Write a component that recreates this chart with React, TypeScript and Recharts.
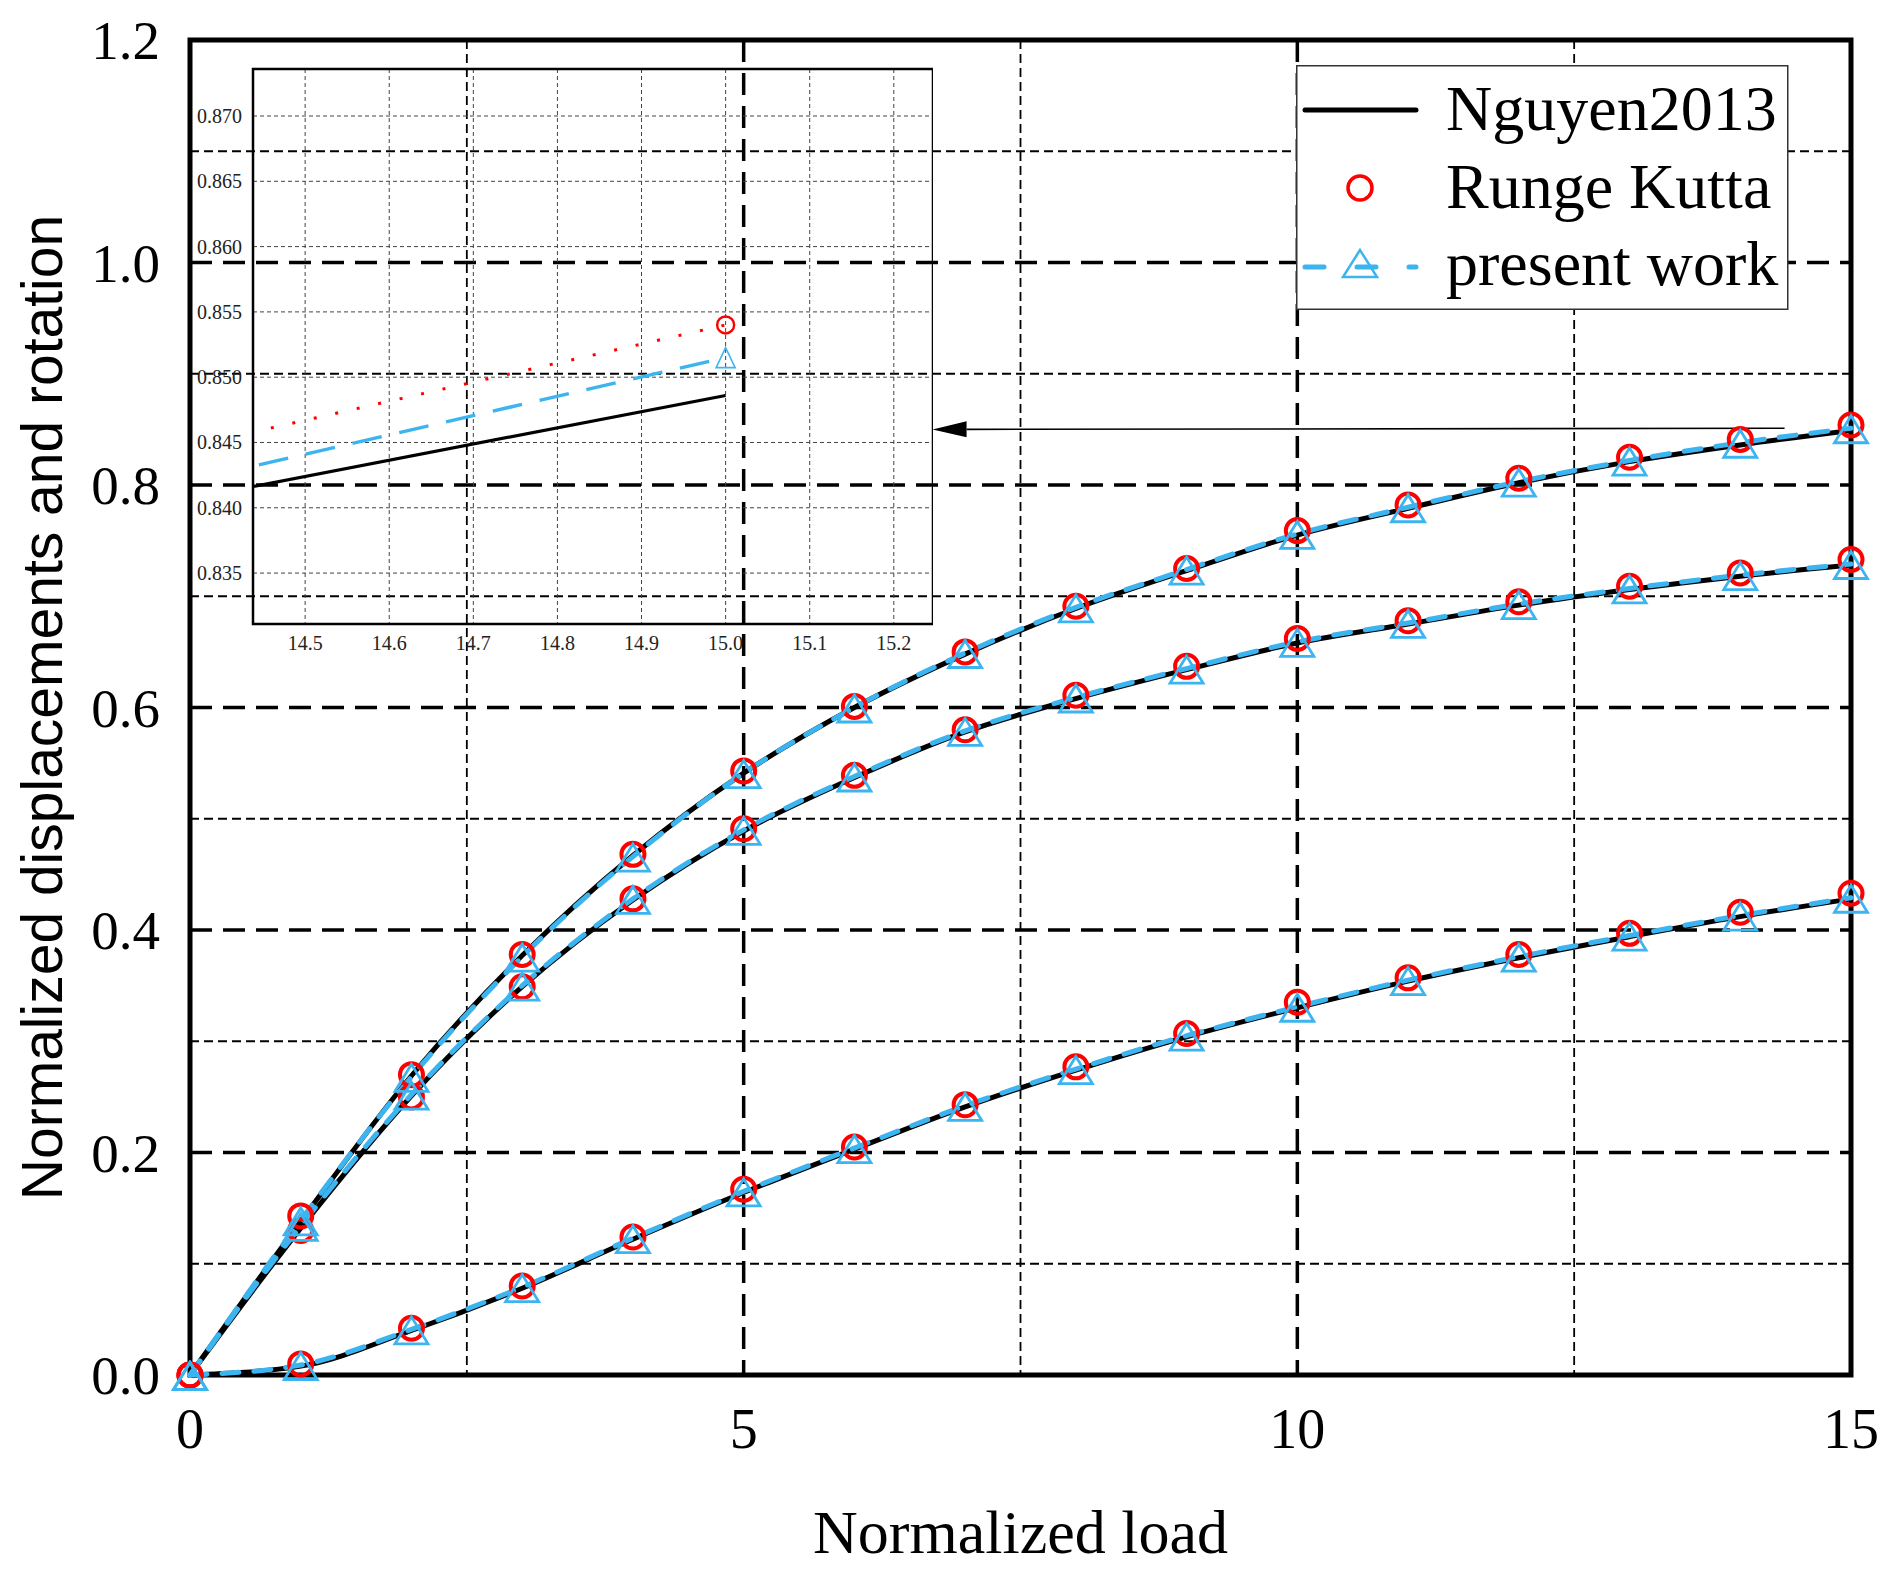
import React from "react";
import { ComposedChart, LineChart, Line, XAxis, YAxis, CartesianGrid, ReferenceArea, ReferenceLine, Label } from "recharts";

// normalized load (x)
const loads = [0, 1, 2, 3, 4, 5, 6, 7, 8, 9, 10, 11, 12, 13, 14, 15];

// upper curve
const topNguyen = [0, 0.138, 0.269, 0.377, 0.467, 0.541, 0.6, 0.648, 0.689, 0.723, 0.755, 0.779, 0.802, 0.821, 0.836, 0.849];
const topRungeKutta = [0, 0.143, 0.27, 0.378, 0.468, 0.543, 0.601, 0.65, 0.691, 0.725, 0.759, 0.782, 0.806, 0.825, 0.841, 0.854];
const topPresent = [0, 0.139, 0.268, 0.376, 0.466, 0.541, 0.6, 0.649, 0.69, 0.724, 0.756, 0.78, 0.803, 0.822, 0.838, 0.851];

// middle curve
const midNguyen = [0, 0.132, 0.251, 0.349, 0.427, 0.489, 0.537, 0.578, 0.608, 0.634, 0.658, 0.675, 0.692, 0.706, 0.718, 0.728];
const midRungeKutta = [0, 0.13, 0.25, 0.349, 0.428, 0.491, 0.539, 0.58, 0.611, 0.637, 0.662, 0.678, 0.695, 0.709, 0.721, 0.733];
const midPresent = [0, 0.134, 0.252, 0.35, 0.428, 0.49, 0.538, 0.579, 0.609, 0.635, 0.659, 0.676, 0.693, 0.707, 0.719, 0.729];

// lower curve
const lowNguyen = [0, 0.008, 0.04, 0.078, 0.122, 0.164, 0.203, 0.241, 0.274, 0.304, 0.33, 0.354, 0.375, 0.394, 0.412, 0.428];
const lowRungeKutta = [0, 0.01, 0.042, 0.08, 0.124, 0.167, 0.205, 0.243, 0.277, 0.307, 0.335, 0.357, 0.378, 0.397, 0.416, 0.433];
const lowPresent = [0, 0.009, 0.041, 0.079, 0.123, 0.165, 0.204, 0.242, 0.275, 0.305, 0.331, 0.355, 0.376, 0.395, 0.413, 0.429];

const xTicks = [0, 5, 10, 15];
const yTicks = [0, 0.2, 0.4, 0.6, 0.8, 1.0, 1.2];
const majorX = [5, 10];
const minorX = [2.5, 7.5, 12.5];
const majorY = [0.2, 0.4, 0.6, 0.8, 1.0];
const minorY = [0.1, 0.3, 0.5, 0.7, 0.9, 1.1];

// zoomed inset near load = 15
const insetLoads = [14, 15];
const insetNguyen = [0.8362, 0.8486];
const insetRungeKutta = [0.8394, 0.854];
const insetPresent = [0.8367, 0.8515];
const insetXDomain = [14.438, 15.2466];
const insetYDomain = [0.8311, 0.8736];
const insetXTicks = [14.5, 14.6, 14.7, 14.8, 14.9, 15.0, 15.1, 15.2];
const insetYTicks = [0.835, 0.84, 0.845, 0.85, 0.855, 0.86, 0.865, 0.87];

// arrow from the curve end to the inset
const arrowFrom = { x: 14.4, y: 0.851 };
const arrowTo = { x: 6.706, y: 0.85 };

const rows = loads.map((load, i) => ({
  load,
  topN: topNguyen[i], topRK: topRungeKutta[i], topP: topPresent[i],
  midN: midNguyen[i], midRK: midRungeKutta[i], midP: midPresent[i],
  lowN: lowNguyen[i], lowRK: lowRungeKutta[i], lowP: lowPresent[i],
}));

const insetRows = insetLoads.map((load, i) => ({
  load, n: insetNguyen[i], rk: insetRungeKutta[i], p: insetPresent[i],
}));

const SERIF = "'Liberation Serif', 'Times New Roman', serif";
const SANS = "'Liberation Sans', Arial, sans-serif";
const RED = "#ff0000";
const BLUE = "#3cb4f0";

const tri = (cx: number, cy: number, w: number, h: number) =>
  `${cx},${cy - h / 2} ${cx - w / 2},${cy + h / 2} ${cx + w / 2},${cy + h / 2}`;

function circleDot(p: any) {
  if (p.cx == null || p.cy == null) return <g key={`c${p.index}`} />;
  return <circle key={`c${p.index}`} cx={p.cx} cy={p.cy} r={11.5} fill="none" stroke={RED} strokeWidth={4} />;
}

function triangleDot(p: any) {
  if (p.cx == null || p.cy == null) return <g key={`t${p.index}`} />;
  return <polygon key={`t${p.index}`} points={tri(p.cx, p.cy + 1, 33, 27)} fill="none" stroke={BLUE} strokeWidth={2.8} />;
}

// inset: marker only at the last point
function insetCircle(p: any) {
  if (p.index !== insetLoads.length - 1) return <g key={`ic${p.index}`} />;
  return <circle key={`ic${p.index}`} cx={p.cx} cy={p.cy} r={8.5} fill="none" stroke={RED} strokeWidth={2.4} />;
}
function insetTriangle(p: any) {
  if (p.index !== insetLoads.length - 1) return <g key={`it${p.index}`} />;
  return <polygon key={`it${p.index}`} points={tri(p.cx, p.cy, 19, 20)} fill="none" stroke={BLUE} strokeWidth={1.6} />;
}

function YTick(p: any) {
  return (
    <text x={p.x} y={p.y} dy="0.35em" textAnchor="end" fontFamily={SERIF} fontSize={55} fill="#000">
      {Number(p.payload.value).toFixed(1)}
    </text>
  );
}
function XTick(p: any) {
  return (
    <text x={p.x} y={p.y} dy="0.71em" textAnchor="middle" fontFamily={SERIF} fontSize={56} fill="#000">
      {p.payload.value}
    </text>
  );
}
function InsetYTick(p: any) {
  return (
    <text x={p.x} y={p.y} dy="0.35em" textAnchor="end" fontFamily={SERIF} fontSize={20} fill="#222">
      {Number(p.payload.value).toFixed(3)}
    </text>
  );
}
function InsetXTick(p: any) {
  return (
    <text x={p.x} y={p.y} dy="0.71em" textAnchor="middle" fontFamily={SERIF} fontSize={20} fill="#222">
      {Number(p.payload.value).toFixed(1)}
    </text>
  );
}

function Arrow(p: any) {
  const { x1, y1, x2, y2 } = p;
  const [hx, hy, tx, ty] = x1 < x2 ? [x1, y1, x2, y2] : [x2, y2, x1, y1];
  const a = Math.atan2(ty - hy, tx - hx);
  const len = 34, half = 8;
  const bx = hx + len * Math.cos(a), by = hy + len * Math.sin(a);
  const px = -Math.sin(a) * half, py = Math.cos(a) * half;
  return (
    <g>
      <line x1={bx} y1={by} x2={tx} y2={ty} stroke="#000" strokeWidth={1.6} />
      <polygon points={`${hx},${hy} ${bx + px},${by + py} ${bx - px},${by - py}`} fill="#000" />
    </g>
  );
}

function LegendBox() {
  return (
    <svg style={{ position: "absolute", left: 1296, top: 65 }} width={493} height={245}>
      <rect x={0.75} y={0.75} width={491} height={243.5} fill="#fff" stroke="#333" strokeWidth={1.5} />
      <line x1={9} y1={45} x2={120} y2={45} stroke="#000" strokeWidth={5} strokeLinecap="round" />
      <text x={150} y={65} fontFamily={SERIF} fontSize={64} fill="#000">Nguyen2013</text>
      <circle cx={64} cy={123} r={12} fill="none" stroke={RED} strokeWidth={3.5} />
      <text x={150} y={143} fontFamily={SERIF} fontSize={64} fill="#000">Runge Kutta</text>
      <line x1={9} y1={202} x2={120} y2={202} stroke={BLUE} strokeWidth={5} strokeLinecap="round" strokeDasharray="19 33" />
      <polygon points={tri(64, 198.5, 34, 27)} fill="none" stroke={BLUE} strokeWidth={2.5} />
      <text x={150} y={220} fontFamily={SERIF} fontSize={64} fill="#000">present work</text>
    </svg>
  );
}

export default function App() {
  return (
    <div style={{ position: "absolute", left: 0, top: 0, width: 1892, height: 1570, background: "#fff" }}>
      <ComposedChart width={1892} height={1570} data={rows} margin={{ top: 40, right: 41, bottom: 0, left: 0 }}>
        <CartesianGrid horizontalValues={minorY} verticalValues={minorX} stroke="#000" strokeWidth={1.8} strokeDasharray="9 5" />
        <CartesianGrid horizontalValues={majorY} verticalValues={majorX} stroke="#000" strokeWidth={3.5} strokeDasharray="22 11" />
        <XAxis type="number" dataKey="load" domain={[0, 15]} ticks={xTicks} height={195} axisLine={false} tickLine={false} tickSize={0} tickMargin={33} tick={XTick}>
          <Label
            content={(p: any) => (
              <text x={p.viewBox.x + p.viewBox.width / 2} y={p.viewBox.y + 178} textAnchor="middle" fontFamily={SERIF} fontSize={62} fill="#000">
                Normalized load
              </text>
            )}
          />
        </XAxis>
        <YAxis type="number" domain={[0, 1.2]} ticks={yTicks} width={190} axisLine={false} tickLine={false} tickSize={0} tickMargin={30} tick={YTick}>
          <Label
            content={(p: any) => {
              const cx = p.viewBox.x + 42;
              const cy = p.viewBox.y + p.viewBox.height / 2;
              return (
                <text x={cx} y={cy} transform={`rotate(-90, ${cx}, ${cy})`} textAnchor="middle" dominantBaseline="central" fontFamily={SANS} fontSize={57} fill="#000">
                  Normalized displacements and rotation
                </text>
              );
            }}
          />
        </YAxis>
        <ReferenceArea x1={0} x2={15} y1={0} y2={1.2} fill="none" stroke="#000" strokeWidth={5} />
        <ReferenceLine segment={[arrowFrom, arrowTo]} shape={Arrow} />

        <Line dataKey="topRK" stroke="none" dot={circleDot} activeDot={false} isAnimationActive={false} />
        <Line dataKey="midRK" stroke="none" dot={circleDot} activeDot={false} isAnimationActive={false} />
        <Line dataKey="lowRK" stroke="none" dot={circleDot} activeDot={false} isAnimationActive={false} />

        <Line type="monotone" dataKey="topN" stroke="#000" strokeWidth={5} dot={false} activeDot={false} isAnimationActive={false} />
        <Line type="monotone" dataKey="midN" stroke="#000" strokeWidth={5} dot={false} activeDot={false} isAnimationActive={false} />
        <Line type="monotone" dataKey="lowN" stroke="#000" strokeWidth={5} dot={false} activeDot={false} isAnimationActive={false} />

        <Line type="monotone" dataKey="topP" stroke={BLUE} strokeWidth={5} strokeLinecap="round" strokeDasharray="17 15" dot={triangleDot} activeDot={false} isAnimationActive={false} />
        <Line type="monotone" dataKey="midP" stroke={BLUE} strokeWidth={5} strokeLinecap="round" strokeDasharray="17 15" dot={triangleDot} activeDot={false} isAnimationActive={false} />
        <Line type="monotone" dataKey="lowP" stroke={BLUE} strokeWidth={5} strokeLinecap="round" strokeDasharray="17 15" dot={triangleDot} activeDot={false} isAnimationActive={false} />
      </ComposedChart>

      <div style={{ position: "absolute", left: 193, top: 60, width: 740, height: 604 }}>
        <LineChart width={740} height={604} data={insetRows} margin={{ top: 9, right: 0, bottom: 0, left: 0 }}>
          <CartesianGrid stroke="#444" strokeWidth={1} strokeDasharray="4 3" />
          <XAxis type="number" dataKey="load" domain={insetXDomain} allowDataOverflow ticks={insetXTicks} height={40} axisLine={false} tickLine={false} tickSize={0} tickMargin={12} tick={InsetXTick} />
          <YAxis type="number" domain={insetYDomain} allowDataOverflow ticks={insetYTicks} width={60} axisLine={false} tickLine={false} tickSize={0} tickMargin={11} tick={InsetYTick} />
          <ReferenceArea x1={insetXDomain[0]} x2={insetXDomain[1]} y1={insetYDomain[0]} y2={insetYDomain[1]} fill="none" stroke="#000" strokeWidth={2.5} />
          <Line type="linear" dataKey="n" stroke="#000" strokeWidth={3.2} dot={false} activeDot={false} isAnimationActive={false} />
          <Line type="linear" dataKey="rk" stroke={RED} strokeWidth={3} strokeDasharray="3 19" dot={insetCircle} activeDot={false} isAnimationActive={false} />
          <Line type="linear" dataKey="p" stroke={BLUE} strokeWidth={3.5} strokeDasharray="30 18" dot={insetTriangle} activeDot={false} isAnimationActive={false} />
        </LineChart>
      </div>

      <LegendBox />
    </div>
  );
}
